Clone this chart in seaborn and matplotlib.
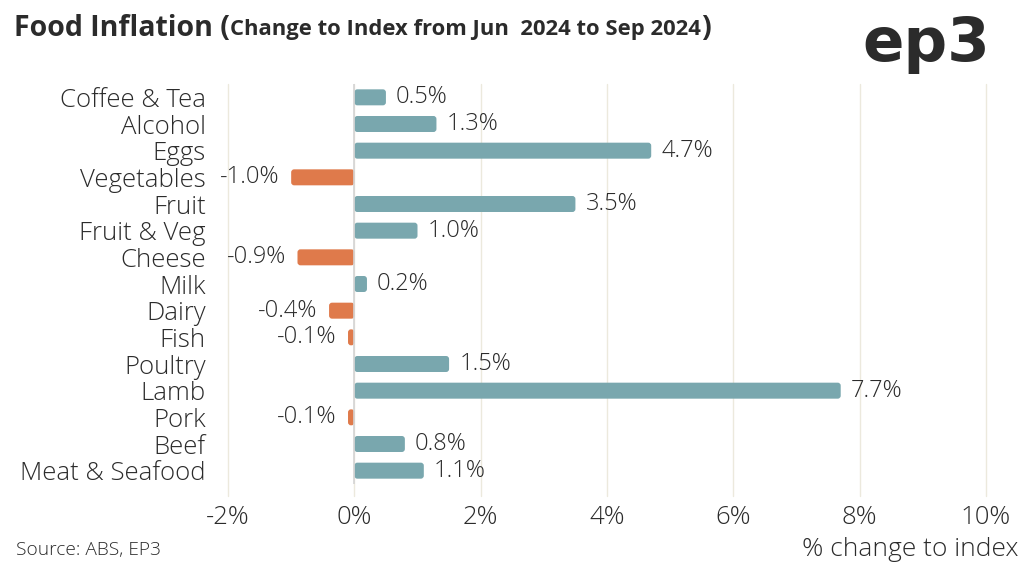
import pandas as pd
import matplotlib.pyplot as plt
import seaborn as sns
from matplotlib.patches import FancyBboxPatch

# Data
categories = ['Coffee & Tea', 'Alcohol', 'Eggs', 'Vegetables', 'Fruit', 'Fruit & Veg',
              'Cheese', 'Milk', 'Dairy', 'Fish', 'Poultry', 'Lamb', 'Pork', 'Beef',
              'Meat & Seafood']
changes = [0.5, 1.3, 4.7, -1.0, 3.5, 1.0, -0.9, 0.2, -0.4, -0.1, 1.5, 7.7, -0.1, 0.8, 1.1]
tick_values = [-2, 0, 2, 4, 6, 8, 10]

df = pd.DataFrame({'category': categories, 'change': changes})
df['sign'] = ['pos' if v >= 0 else 'neg' for v in changes]

TEAL = '#79a7ae'
ORANGE = '#df7a4b'
TEXT = '#2b2b2b'

sns.set_theme(style='white')
plt.rcParams['font.family'] = ['Open Sans', 'DejaVu Sans']
plt.rcParams['font.weight'] = 'light'

fig = plt.figure(figsize=(10.24, 5.68), dpi=100)
ax = fig.add_axes([228 / 1024, 1 - 484 / 568, (986 - 228) / 1024, (484 - 84) / 568])

sns.barplot(data=df, x='change', y='category', hue='sign', order=categories,
            palette={'pos': TEAL, 'neg': ORANGE}, width=0.6, dodge=False,
            saturation=1, legend=False, ax=ax, orient='h')

ax.set_xlim(-2, 10)
ax.set_ylim(len(categories) - 0.5, -0.5)

# swap the plain bars for slightly rounded ones
px_x = 12 / (986 - 228)       # data units per pixel, x
px_y = 15 / (484 - 84)        # data units per pixel, y
for p in list(ax.patches):
    x0, y0, w, h = p.get_x(), p.get_y(), p.get_width(), p.get_height()
    if w < 0:
        x0, w = x0 + w, -w
    r = min(3 * px_x, w / 2)
    fb = FancyBboxPatch((x0, y0), w, h, boxstyle=f'round,pad=0,rounding_size={r}',
                        mutation_aspect=px_y / px_x, facecolor=p.get_facecolor(),
                        edgecolor='none', zorder=2)
    p.remove()
    ax.add_patch(fb)

ax.set_xticks(tick_values)
ax.set_xticklabels([f'{t}%' for t in tick_values], fontsize=18.5, color=TEXT)
ax.tick_params(axis='x', length=0, pad=15)
ax.tick_params(axis='y', length=0, pad=16, labelsize=18.5, labelcolor=TEXT)
ax.set_xlabel('')
ax.set_ylabel('')
for t in tick_values:
    ax.axvline(t, ymin=-0.03, color='#ece9dd', lw=1, zorder=0, clip_on=False)
ax.axvline(0, color='#d4d4d4', lw=1.2, zorder=3)
for s in ax.spines.values():
    s.set_visible(False)

# value labels
for i, v in enumerate(changes):
    if v >= 0:
        ax.text(v + 0.16, i, f'{v:.1f}%', va='center', ha='left', fontsize=17, color=TEXT)
    else:
        ax.text(v - 0.18, i, f'{v:.1f}%', va='center', ha='right', fontsize=17, color=TEXT)

# title in two sizes
t1 = fig.text(14 / 1024, 1 - 28 / 568, 'Food Inflation (', fontsize=20.5, fontweight='bold',
              color=TEXT, va='center')
fig.canvas.draw()
bb = t1.get_window_extent()
t2 = fig.text(bb.x1 / 1024, 1 - 30 / 568, 'Change to Index from Jun  2024 to Sep 2024',
              fontsize=15.8, fontweight='bold', color=TEXT, va='center')
fig.canvas.draw()
bb2 = t2.get_window_extent()
fig.text(bb2.x1 / 1024, 1 - 28 / 568, ')', fontsize=20.5, fontweight='bold',
         color=TEXT, va='center')

# logo
fig.text(990 / 1024, 1 - 44 / 568, 'ep3', fontsize=44, fontweight='bold', color=TEXT,
         ha='right', va='center', family='DejaVu Sans')

fig.text(16 / 1024, 1 - 550 / 568, 'Source: ABS, EP3', fontsize=13.8, color=TEXT, va='center')
fig.text(1018 / 1024, 1 - 550 / 568, '% change to index', fontsize=19, color=TEXT,
         ha='right', va='center')

fig.savefig('out.png', dpi=100)
